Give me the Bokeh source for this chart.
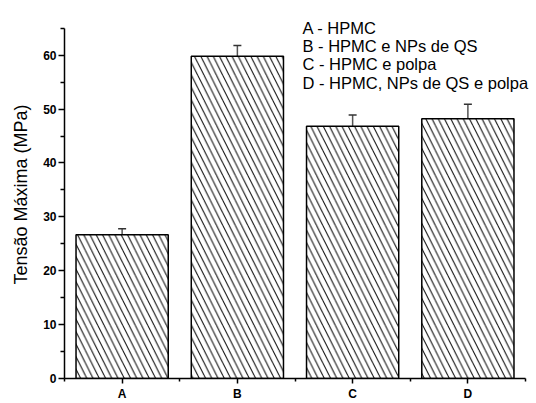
from bokeh.plotting import figure
from bokeh.models import (ColumnDataSource, FixedTicker, Whisker, TeeHead, Label,
                          Range1d, LinearAxis)
from bokeh.embed import file_html
from bokeh.resources import INLINE

# ---- data ----
categories = ["A", "B", "C", "D"]
values = [26.7, 59.8, 46.8, 48.2]
errors = [1.1, 2.0, 2.1, 2.7]
legend_lines = ["A - HPMC", "B - HPMC e NPs de QS", "C - HPMC e polpa",
                "D - HPMC, NPs de QS e polpa"]
y_label = "Tensão Máxima (MPa)"
y_ticks = [0, 10, 20, 30, 40, 50, 60]
y_minor = [5, 15, 25, 35, 45, 55, 65]
y_axis_max = 65

FONT = "Liberation Sans"

xpos = [i + 0.5 for i in range(len(categories))]
src = ColumnDataSource(dict(
    x=xpos, top=values,
    upper=[v + e for v, e in zip(values, errors)],
))

p = figure(width=536, height=403, output_backend="svg", toolbar_location=None,
           x_range=Range1d(0, 4.078), y_range=Range1d(0, 68.3),
           min_border_left=64, min_border_right=2, min_border_top=10,
           min_border_bottom=23)
p.outline_line_color = None
p.xgrid.visible = False
p.ygrid.visible = False

p.vbar(x="x", top="top", width=0.8, source=src, fill_color="white",
       line_color="black", line_width=1.5,
       hatch_pattern="left_diagonal_line", hatch_color="black",
       hatch_scale=12.5, hatch_weight=1)

wh = Whisker(source=src, base="x", lower="top", upper="upper",
             line_color="#555555", line_width=1.5, lower_head=None,
             upper_head=TeeHead(size=8, line_color="#333333", line_width=1.5))
p.add_layout(wh)

# axes
xa = p.xaxis[0]
xa.ticker = FixedTicker(ticks=xpos, minor_ticks=[0, 1, 2, 3, 4])
xa.major_label_overrides = {x: c for x, c in zip(xpos, categories)}
xa.bounds = (0, len(categories))
ya = p.yaxis[0]
ya.ticker = FixedTicker(ticks=y_ticks, minor_ticks=y_minor)
ya.bounds = (0, y_axis_max)
for ax in (xa, ya):
    ax.axis_line_width = 1.5
    ax.axis_line_color = "black"
    ax.major_tick_line_width = 1.5
    ax.major_tick_line_color = "black"
    ax.minor_tick_line_width = 1.5
    ax.minor_tick_line_color = "black"
    ax.major_tick_in = 0
    ax.minor_tick_in = 0
    ax.major_tick_out = 6
    ax.minor_tick_out = 4
    ax.major_label_text_font = FONT
    ax.major_label_text_font_style = "bold"
    ax.major_label_text_font_size = "12px"
    ax.major_label_text_color = "black"
xa.major_tick_out = 5
xa.minor_tick_out = 3
xa.major_label_standoff = 3
ya.major_label_standoff = 2

# y-axis title on an extra bare axis whose bounds set where it is centred
ta = LinearAxis(bounds=(0, 61), ticker=FixedTicker(ticks=[]),
                axis_line_color=None, major_tick_line_color=None,
                minor_tick_line_color=None, major_label_text_font_size="0px",
                axis_label=y_label, axis_label_text_font=FONT,
                axis_label_text_font_size="18px", axis_label_text_font_style="normal",
                axis_label_text_color="black", axis_label_standoff=10)
p.add_layout(ta, "left")

# legend text
for i, t in enumerate(legend_lines):
    p.add_layout(Label(x=2.065, y=65.13 - i * 3.41, text=t,
                       text_align="left", text_baseline="alphabetic",
                       text_font=FONT, text_font_size="16.5px",
                       text_color="black"))

open("out.html", "w").write(file_html(p, INLINE))
